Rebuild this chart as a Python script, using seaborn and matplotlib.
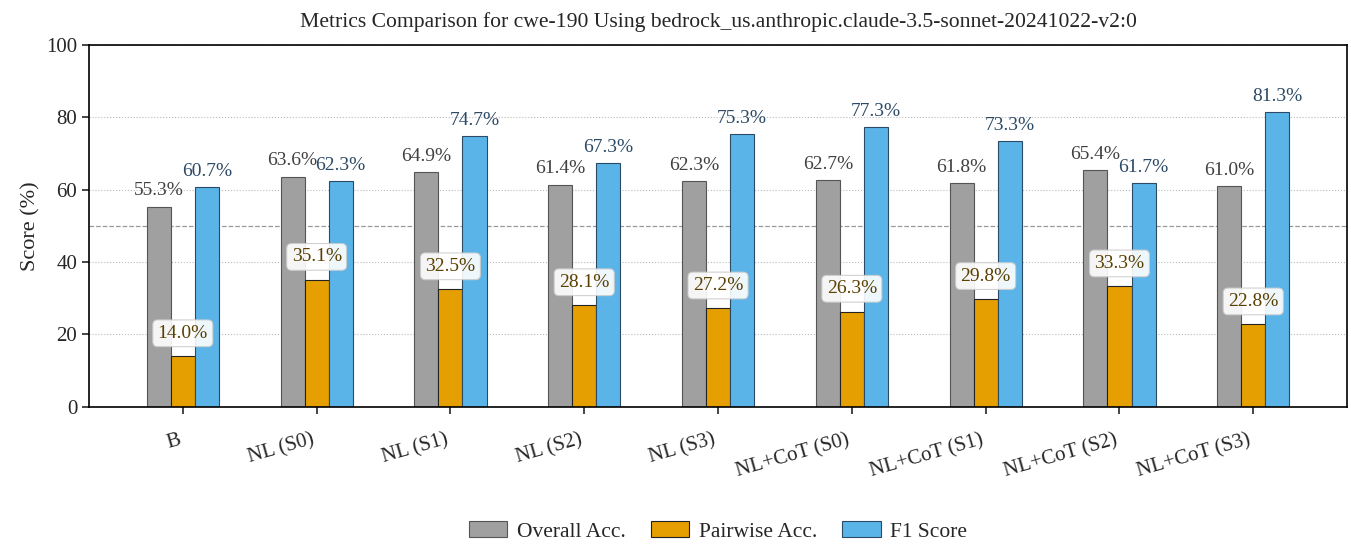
import pandas as pd
import matplotlib.pyplot as plt
import seaborn as sns

categories = ["B", "NL (S0)", "NL (S1)", "NL (S2)", "NL (S3)",
              "NL+CoT (S0)", "NL+CoT (S1)", "NL+CoT (S2)", "NL+CoT (S3)"]
overall_acc = [55.3, 63.6, 64.9, 61.4, 62.3, 62.7, 61.8, 65.4, 61.0]
pairwise_acc = [14.0, 35.1, 32.5, 28.1, 27.2, 26.3, 29.8, 33.3, 22.8]
f1_score = [60.7, 62.3, 74.7, 67.3, 75.3, 77.3, 73.3, 61.7, 81.3]
metrics = ["Overall Acc.", "Pairwise Acc.", "F1 Score"]

sns.set_style("white")
plt.rcParams['font.family'] = ['Liberation Serif', 'DejaVu Serif']

df = pd.DataFrame({
    "Strategy": categories * 3,
    "Metric": [metrics[0]] * 9 + [metrics[1]] * 9 + [metrics[2]] * 9,
    "Score": overall_acc + pairwise_acc + f1_score,
})

fills = ["#a0a0a0", "#e69f00", "#5ab4e8"]
edges = ["#555555", "#222222", "#2a4a66"]
text_cols = ["#404040", "#5a4000", "#2c4a66"]

fig, ax = plt.subplots(figsize=(13.51, 5.46), dpi=100)
sns.barplot(data=df, x="Strategy", y="Score", hue="Metric",
            palette=fills, saturation=1, width=0.54, ax=ax, errorbar=None)

for i, cont in enumerate(ax.containers):
    for bar in cont:
        bar.set_edgecolor(edges[i])
        bar.set_linewidth(0.8)
        x = bar.get_x() + bar.get_width() / 2
        h = bar.get_height()
        if i == 1:
            ax.text(x, h + 6.3, f"{h:.1f}%", ha="center", va="center",
                    fontsize=14, color=text_cols[i],
                    bbox=dict(boxstyle="round,pad=0.25", fc="white",
                              ec="#cccccc", lw=0.8, alpha=0.9))
        else:
            ax.text(x, h + 2.0, f"{h:.1f}%", ha="center", va="bottom",
                    fontsize=14, color=text_cols[i])

ax.axhline(50, color="#999999", ls="--", lw=0.9, zorder=0)
ax.yaxis.grid(True, ls=":", color="#bbbbbb", lw=0.8)
ax.set_axisbelow(True)
ax.set_ylim(0, 100)
ax.set_xlim(-0.7, 8.7)
ax.set_title("Metrics Comparison for cwe-190 Using bedrock_us.anthropic.claude-3.5-sonnet-20241022-v2:0",
             fontsize=15.6, pad=13)
ax.set_xlabel("")
ax.set_ylabel("Score (%)", fontsize=16)
ax.tick_params(axis="both", direction="out", length=5, width=1.2, labelsize=15,
               bottom=True, left=True)
ax.tick_params(axis="x", pad=12)
plt.setp(ax.get_xticklabels(), rotation=16, ha="right")
for sp in ax.spines.values():
    sp.set_linewidth(1.2)
    sp.set_color("black")

leg = ax.legend(loc="upper center", bbox_to_anchor=(0.5, -0.262), ncol=3, frameon=False,
                fontsize=15.5, handlelength=1.8, handleheight=0.8,
                handletextpad=0.45, columnspacing=1.15)
for i, hnd in enumerate(leg.legend_handles):
    hnd.set_edgecolor(edges[i])
    hnd.set_linewidth(0.8)

plt.subplots_adjust(left=0.066, right=0.997, top=0.918, bottom=0.255)
plt.savefig("out.png")
